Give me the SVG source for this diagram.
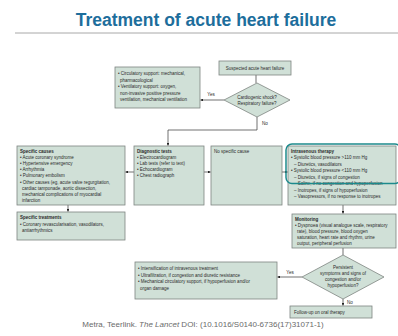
<svg xmlns="http://www.w3.org/2000/svg" width="398" height="336" viewBox="0 0 398 336">
<defs>
<marker id="ah" viewBox="0 0 6 6" refX="5.5" refY="3" markerWidth="4" markerHeight="4" orient="auto">
<path d="M0,0 L6,3 L0,6 z" fill="#222"/>
</marker>
<style>
.bx{fill:#d0e0d7;stroke:#7d8480;stroke-width:0.8}
.t{font-family:"Liberation Sans",Arial,sans-serif;font-size:4.5px;fill:#2a2a2a}
.b{font-weight:bold}
.c{text-anchor:middle}
.ln{fill:none;stroke:#333;stroke-width:0.7}
.lb{font-family:"Liberation Sans",Arial,sans-serif;font-size:4.6px;fill:#2a2a2a}
</style>
</defs>
<rect width="398" height="336" fill="#fff"/>
<text x="206" y="26" font-family="Liberation Sans,Arial,sans-serif" font-size="17.5" font-weight="bold" fill="#1d6e9c" text-anchor="middle">Treatment of acute heart failure</text>
<line x1="15" y1="33" x2="398" y2="33" stroke="#a8a8a8" stroke-width="1"/>

<g id="connectors">
<line class="ln" x1="256" y1="75" x2="256" y2="83"/>
<line class="ln" x1="224" y1="100" x2="200.5" y2="100" marker-end="url(#ah)"/>
<polyline class="ln" points="257,117 257,130 168,130 168,145.5" marker-end="url(#ah)"/>
<line class="ln" x1="134" y1="172" x2="125.5" y2="172" marker-end="url(#ah)"/>
<line class="ln" x1="204" y1="172" x2="210.5" y2="172" marker-end="url(#ah)"/>
<line class="ln" x1="282" y1="172" x2="287.5" y2="172" marker-end="url(#ah)"/>
<line class="ln" x1="68" y1="205" x2="68" y2="211.5" marker-end="url(#ah)"/>
<line class="ln" x1="343" y1="205" x2="343" y2="213.5" marker-end="url(#ah)"/>
<line class="ln" x1="343" y1="248" x2="343" y2="255"/>
<line class="ln" x1="302" y1="277" x2="277.5" y2="277" marker-end="url(#ah)"/>
<line class="ln" x1="343" y1="299" x2="343" y2="305.5" marker-end="url(#ah)"/>
<text class="lb" x="211" y="96" text-anchor="middle">Yes</text>
<text class="lb" x="262" y="124.5">No</text>
<text class="lb" x="290" y="273.5" text-anchor="middle">Yes</text>
<text class="lb" x="347" y="304">No</text>
</g>

<g id="suspected">
<rect class="bx" x="219" y="61" width="72" height="14" stroke="#555"/>
<text class="t c" x="255" y="69.5">Suspected acute heart failure</text>
</g>

<g id="shock">
<polygon class="bx" points="257,83 290,100 257,117 224,100"/>
<text class="t c" x="257" y="98.5">Cardiogenic shock?</text>
<text class="t c" x="257" y="104.5">Respiratory failure?</text>
</g>

<g id="support">
<rect class="bx" x="115" y="67" width="85" height="41"/>
<text class="t" x="118" y="75">• Circulatory support: mechanical,</text>
<text class="t" x="120" y="81.5">pharmacological</text>
<text class="t" x="118" y="88">• Ventilatory support: oxygen,</text>
<text class="t" x="120" y="94.5">non-invasive positive pressure</text>
<text class="t" x="120" y="101">ventilation, mechanical ventilation</text>
</g>

<g id="causes">
<rect class="bx" x="17" y="146" width="108" height="59"/>
<text class="t b" x="20" y="152.5">Specific causes</text>
<text class="t" x="20" y="158.7">• Acute coronary syndrome</text>
<text class="t" x="20" y="164.9">• Hypertensive emergency</text>
<text class="t" x="20" y="171.1">• Arrhythmia</text>
<text class="t" x="20" y="177.3">• Pulmonary embolism</text>
<text class="t" x="20" y="183.5">• Other causes (eg, acute valve regurgitation,</text>
<text class="t" x="22" y="189.7">cardiac tamponade, aortic dissection,</text>
<text class="t" x="22" y="195.9">mechanical complications of myocardial</text>
<text class="t" x="22" y="202.1">infarction</text>
</g>

<g id="diagnostic">
<rect class="bx" x="134" y="146" width="70" height="59"/>
<text class="t b" x="137" y="152.5">Diagnostic tests</text>
<text class="t" x="137" y="158.7">• Electrocardiogram</text>
<text class="t" x="137" y="164.9">• Lab tests (refer to text)</text>
<text class="t" x="137" y="171.1">• Echocardiogram</text>
<text class="t" x="137" y="177.3">• Chest radiograph</text>
</g>

<g id="nocause">
<rect class="bx" x="211" y="146" width="71" height="59"/>
<text class="t" x="214" y="152.5">No specific cause</text>
</g>

<g id="iv">
<rect class="bx" x="288" y="146" width="108" height="59"/>
<text class="t b" x="291" y="152.5">Intravenous therapy</text>
<text class="t" x="291" y="159">• Systolic blood pressure &gt;110 mm Hg</text>
<text class="t" x="294" y="165.5">– Diuretics, vasodilators</text>
<text class="t" x="291" y="172">• Systolic blood pressure &lt;110 mm Hg</text>
<text class="t" x="294" y="178.5">– Diuretics, if signs of congestion</text>
<text class="t" x="294" y="185">– Saline, if no congestion and hypoperfusion</text>
<text class="t" x="294" y="191.5">– Inotropes, if signs of hypoperfusion</text>
<text class="t" x="294" y="198">– Vasopressors, if no response to inotropes</text>
<rect x="286" y="144" width="115" height="39.5" rx="6" fill="none" stroke="#1c8a8c" stroke-width="1.5"/>
</g>

<g id="treatments">
<rect class="bx" x="17" y="212" width="108" height="28"/>
<text class="t b" x="20" y="219">Specific treatments</text>
<text class="t" x="20" y="225.5">• Coronary revascularisation, vasodilators,</text>
<text class="t" x="22" y="232">antiarrhythmics</text>
</g>

<g id="monitoring">
<rect class="bx" x="292" y="214" width="104" height="34"/>
<text class="t b" x="295" y="220.5">Monitoring</text>
<text class="t" x="295" y="226.5">• Dyspnoea (visual analogue scale, respiratory</text>
<text class="t" x="297" y="232.5">rate), blood pressure, blood oxygen</text>
<text class="t" x="297" y="238.5">saturation, heart rate and rhythm, urine</text>
<text class="t" x="297" y="244.5">output, peripheral perfusion</text>
</g>

<g id="persistent">
<polygon class="bx" points="343,255 384,277 343,299 302,277"/>
<text class="t c" x="343" y="268.5">Persistent</text>
<text class="t c" x="343" y="274.5">symptoms and signs of</text>
<text class="t c" x="343" y="280.5">congestion and/or</text>
<text class="t c" x="343" y="286.5">hypoperfusion?</text>
</g>

<g id="intensify">
<rect class="bx" x="135" y="262" width="142" height="37"/>
<text class="t" x="138" y="270">• Intensification of intravenous treatment</text>
<text class="t" x="138" y="276.5">• Ultrafiltration, if congestion and diuretic resistance</text>
<text class="t" x="138" y="283">• Mechanical circulatory support, if hypoperfusion and/or</text>
<text class="t" x="140" y="289.5">organ damage</text>
</g>

<g id="followup">
<rect class="bx" x="290" y="306" width="82" height="12"/>
<text class="t" x="294" y="313.5">Follow-up on oral therapy</text>
</g>

<text x="203" y="327" font-family="Liberation Sans,Arial,sans-serif" font-size="8" fill="#6a6a6a" text-anchor="middle">Metra, Teerlink. <tspan font-style="italic">The Lancet</tspan> DOI: (10.1016/S0140-6736(17)31071-1)</text>
</svg>
